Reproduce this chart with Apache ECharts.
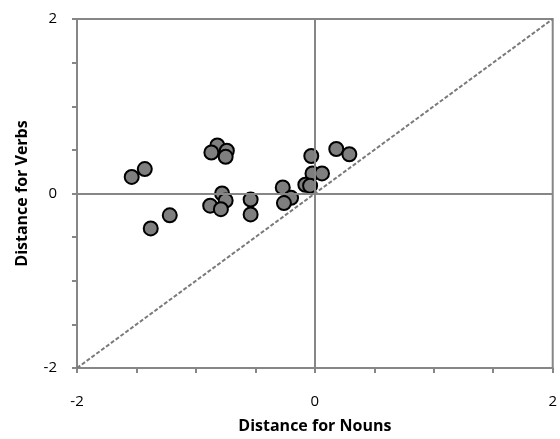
<!DOCTYPE html>
<html lang="en">
<head>
    <meta charset="UTF-8">
    <title>Distance for Nouns vs Verbs</title>
    <script src="https://cdn.jsdelivr.net/npm/echarts@6/dist/echarts.min.js"></script>
</head>
<body style="margin:0;">
<div id="main" style="width: 560px;height:439px;"></div>
<script type="text/javascript">
    // data
    var nouns = [-1.54, -1.43, -1.38, -1.22, -0.82, -0.87, -0.74, -0.75, -0.78, -0.75, -0.88, -0.79, -0.54, -0.54,
                 -0.03, 0.18, 0.29, -0.02, 0.06, -0.08, -0.04, -0.27, -0.20, -0.26];
    var verbs = [0.19, 0.28, -0.40, -0.25, 0.55, 0.47, 0.49, 0.42, 0.00, -0.08, -0.14, -0.18, -0.07, -0.24,
                 0.43, 0.51, 0.45, 0.23, 0.23, 0.10, 0.09, 0.07, -0.05, -0.11];
    var diagonal = [[-2, -2], [2, 2]];
    var axisMin = -2, axisMax = 2;

    var points = nouns.map(function (x, i) { return [x, verbs[i]]; });

    var myChart = echarts.init(document.getElementById("main"));

    var axisGray = "#868686";
    var font = "Open Sans";

    // only -2, 0 and 2 get a label, the other ticks stay bare
    function labelFmt(v) {
        return v % 2 === 0 ? String(v) : "";
    }

    var option = {
        animation: false,
        grid: {
            left: 77, top: 19, right: 5, bottom: 66,
            show: true, borderColor: axisGray, borderWidth: 2
        },
        xAxis: {
            type: "value",
            min: axisMin, max: axisMax, interval: 0.5,
            name: "Distance for Nouns",
            nameLocation: "middle",
            nameGap: 50,
            nameTextStyle: {fontFamily: font, fontWeight: "bold", fontSize: 16, color: "#000"},
            axisLine: {show: true, onZero: false, lineStyle: {color: axisGray, width: 2}},
            axisTick: {show: true, length: 5, lineStyle: {color: axisGray, width: 2}},
            axisLabel: {formatter: labelFmt, margin: 26, fontFamily: font, fontSize: 15, color: "#000"},
            splitLine: {show: false}
        },
        yAxis: {
            type: "value",
            min: axisMin, max: axisMax, interval: 0.5,
            name: "Distance for Verbs",
            nameLocation: "middle",
            nameGap: 47,
            nameTextStyle: {fontFamily: font, fontWeight: "bold", fontSize: 16, color: "#000"},
            axisLine: {show: true, onZero: false, lineStyle: {color: axisGray, width: 2}},
            axisTick: {show: true, length: 5, lineStyle: {color: axisGray, width: 2}},
            axisLabel: {formatter: labelFmt, margin: 20, fontFamily: font, fontSize: 15, color: "#000"},
            splitLine: {show: false}
        },
        series: [
            {
                type: "line",
                data: diagonal,
                symbol: "none",
                silent: true,
                lineStyle: {color: "#7a7a7a", width: 2, type: [4, 2]},
                markLine: {
                    silent: true,
                    symbol: "none",
                    label: {show: false},
                    lineStyle: {color: axisGray, width: 2, type: "solid"},
                    data: [{xAxis: 0}, {yAxis: 0}]
                }
            },
            {
                type: "scatter",
                data: points,
                symbolSize: 14,
                itemStyle: {color: "#7f7f7f", borderColor: "#000", borderWidth: 2, opacity: 1}
            }
        ]
    };

    myChart.setOption(option);
</script>
</body>
</html>
